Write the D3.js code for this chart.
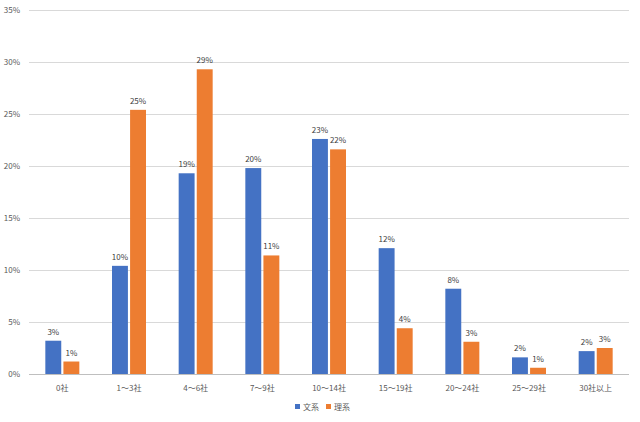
<!DOCTYPE html>
<html>
<head>
<meta charset="utf-8">
<script src="https://cdn.jsdelivr.net/npm/d3@7"></script>
<style>
  body { margin: 0; background: #fff; }
  text { font-family: "Noto Sans CJK JP", "Noto Sans", sans-serif; }
</style>
</head>
<body>
<div id="chart"></div>
<script>
// Data (percent)
const categories = ["0社", "1〜3社", "4〜6社", "7〜9社", "10〜14社", "15〜19社", "20〜24社", "25〜29社", "30社以上"];
const seriesNames = ["文系", "理系"];
const bunkei = [3.2, 10.4, 19.3, 19.8, 22.6, 12.1, 8.2, 1.6, 2.2];
const rikei = [1.2, 25.4, 29.3, 11.4, 21.6, 4.4, 3.1, 0.6, 2.5];
const yTicks = [0, 5, 10, 15, 20, 25, 30, 35];
const colors = ["#4472C4", "#ED7D31"];

const width = 640;
const height = 422;
const marginTop = 10;
const marginRight = 11;
const marginBottom = 48;
const marginLeft = 29;

const x = d3.scaleBand()
    .domain(categories)
    .range([marginLeft, width - marginRight])
    .paddingInner(0.49)
    .paddingOuter(0.245);

const x1 = d3.scaleBand()
    .domain(seriesNames)
    .range([0, x.bandwidth()])
    .paddingInner(0.12);

const y = d3.scaleLinear()
    .domain([0, 35])
    .range([height - marginBottom, marginTop]);

const svg = d3.create("svg")
    .attr("width", width)
    .attr("height", height);

// gridlines
svg.append("g")
  .selectAll("line")
  .data(yTicks)
  .join("line")
    .attr("x1", marginLeft)
    .attr("x2", width - marginRight)
    .attr("y1", d => Math.round(y(d)) + 0.5)
    .attr("y2", d => Math.round(y(d)) + 0.5)
    .attr("stroke", d => d === 0 ? "#bfbfbf" : "#d9d9d9")
    .attr("stroke-width", 1);

// y-axis labels
svg.append("g")
    .attr("transform", `translate(${marginLeft - 6},0)`)
    .call(d3.axisLeft(y).tickValues(yTicks).tickFormat(d => d + "%").tickSize(0))
    .call(g => g.select(".domain").remove())
    .call(g => g.selectAll("text").attr("font-size", 8).attr("fill", "#595959"));

// x-axis labels
svg.append("g")
    .attr("transform", `translate(0,${height - marginBottom + 8})`)
    .call(d3.axisBottom(x).tickSize(0))
    .call(g => g.select(".domain").remove())
    .call(g => g.selectAll("text").attr("font-size", 8).attr("fill", "#595959"));

const rows = categories.map((c, i) => ({cat: c, vals: [bunkei[i], rikei[i]]}));

const groups = svg.append("g")
  .selectAll("g")
  .data(rows)
  .join("g")
    .attr("transform", d => `translate(${x(d.cat)},0)`);

groups.selectAll("rect")
  .data(d => d.vals.map((v, j) => ({name: seriesNames[j], v, j})))
  .join("rect")
    .attr("x", d => x1(d.name))
    .attr("y", d => y(d.v))
    .attr("width", x1.bandwidth())
    .attr("height", d => y(0) - y(d.v))
    .attr("fill", d => colors[d.j]);

groups.selectAll("text.val")
  .data(d => d.vals.map((v, j) => ({name: seriesNames[j], v, j})))
  .join("text")
    .attr("class", "val")
    .attr("x", d => x1(d.name) + x1.bandwidth() / 2)
    .attr("y", d => y(d.v) - 6)
    .attr("text-anchor", "middle")
    .attr("font-size", 8)
    .attr("fill", "#404040")
    .text(d => Math.round(d.v) + "%");

// legend
const legend = svg.append("g")
    .attr("transform", `translate(${295},${height - 15})`);

const item = legend.selectAll("g")
  .data(seriesNames)
  .join("g")
    .attr("transform", (d, i) => `translate(${i * 31},0)`);

item.append("rect")
    .attr("x", 0)
    .attr("y", -3)
    .attr("width", 5)
    .attr("height", 5)
    .attr("fill", (d, i) => colors[i]);

item.append("text")
    .attr("x", 8)
    .attr("y", 0)
    .attr("dy", "0.35em")
    .attr("font-size", 8)
    .attr("fill", "#595959")
    .text(d => d);

document.getElementById("chart").append(svg.node());
</script>
</body>
</html>
